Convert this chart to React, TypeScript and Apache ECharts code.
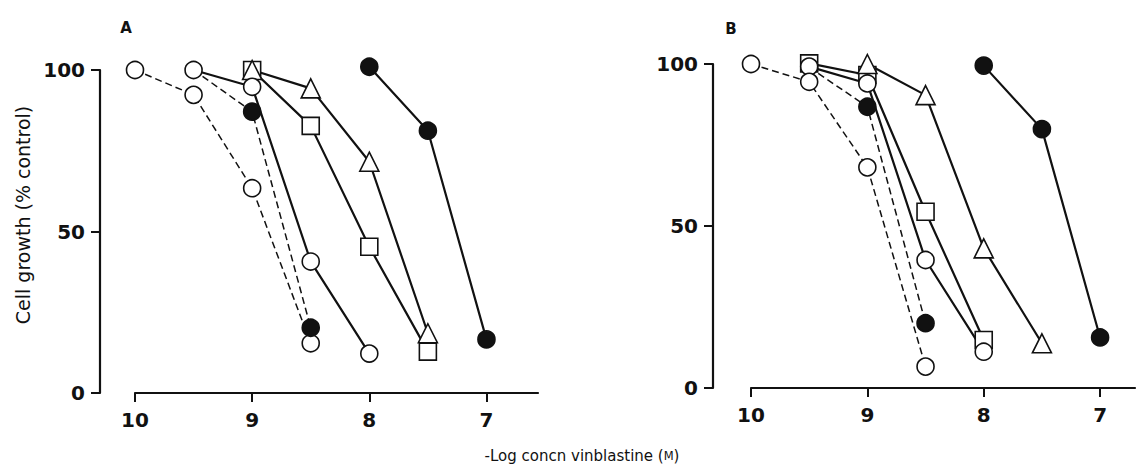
import React, { useEffect, useRef } from "react";
import * as echarts from "echarts";

// Panel A data: [-log concentration, % control]
const squareA = [[9, 100], [8.5, 82.7], [8, 45.3], [7.5, 12.8]];
const triangleA = [[9, 100], [8.5, 94.3], [8, 71.6], [7.5, 18.5]];
const openSolidA = [[9.5, 100], [9, 94.8], [8.5, 40.7], [8, 12.2]];
const openDashA = [[10, 100], [9.5, 92.3], [9, 63.4], [8.5, 15.4]];
const filledDashA = [[9.5, 100], [9, 87.1], [8.5, 20.2]];
const filledSolidA = [[8, 101], [7.5, 81.2], [7, 16.6]];

// Panel B data
const squareB = [[9.5, 100.2], [9, 96.6], [8.5, 54.4], [8, 14.8]];
const triangleB = [[9, 100], [8.5, 90.4], [8, 43.1], [7.5, 13.8]];
const openSolidB = [[9.5, 99.2], [9, 94], [8.5, 39.5], [8, 11.2]];
const openDashB = [[10, 100], [9.5, 94.5], [9, 68.1], [8.5, 6.6]];
const filledDashB = [[9.5, 99], [9, 86.8], [8.5, 20]];
const filledSolidB = [[8, 99.5], [7.5, 79.9], [7, 15.6]];

const xTicks = [10, 9, 8, 7];
const yTicks = [0, 50, 100];
const panelLabels = ["A", "B"];
const yTitle = "Cell growth (% control)";
const xTitle = "-Log concn vinblastine ({s|M})";

const FONT = "'DejaVu Sans', 'Liberation Sans', Arial, sans-serif";
const INK = "#111";

type Pt = number[];

function lineSeries(data: Pt[], idx: number, dashed: boolean) {
  return {
    type: "line",
    xAxisIndex: idx,
    yAxisIndex: idx,
    data,
    symbol: "none",
    clip: false,
    z: 2,
    lineStyle: {
      color: INK,
      width: dashed ? 1.5 : 2.2,
      type: dashed ? [7, 4] : "solid",
    },
  };
}

function markSeries(data: Pt[], idx: number, symbol: string, filled: boolean, size: number, skipFirst = false) {
  return {
    type: "scatter",
    xAxisIndex: idx,
    yAxisIndex: idx,
    data: data.map((d, i) =>
      skipFirst && i === 0 ? { value: d, symbol: "none" } : { value: d }
    ),
    symbol,
    symbolSize: size,
    clip: false,
    z: 3,
    itemStyle: {
      color: filled ? INK : "#fff",
      borderColor: INK,
      borderWidth: 1.6,
      opacity: 1,
    },
  };
}

function panelSeries(idx: number, sq: Pt[], tri: Pt[], os: Pt[], od: Pt[], fd: Pt[], fs: Pt[]) {
  return [
    lineSeries(sq, idx, false),
    lineSeries(tri, idx, false),
    lineSeries(os, idx, false),
    lineSeries(od, idx, true),
    lineSeries(fd, idx, true),
    lineSeries(fs, idx, false),
    markSeries(sq, idx, "rect", false, 17),
    markSeries(tri, idx, "triangle", false, 19),
    markSeries(os, idx, "circle", false, 17),
    markSeries(od, idx, "circle", false, 17),
    markSeries(fd, idx, "circle", true, 17, true),
    markSeries(fs, idx, "circle", true, 17),
  ];
}

function xAxis(idx: number, min: number) {
  return {
    type: "value",
    gridIndex: idx,
    inverse: true,
    min,
    max: 10,
    axisLine: { show: true, onZero: false, lineStyle: { color: INK, width: 2.2 } },
    axisTick: { show: true, length: 9, customValues: xTicks, lineStyle: { color: INK, width: 2 } },
    axisLabel: {
      customValues: xTicks,
      margin: 17,
      fontSize: 20,
      fontWeight: "bold",
      fontFamily: FONT,
      color: INK,
    },
    splitLine: { show: false },
  };
}

function yAxis(idx: number, offset: number) {
  return {
    type: "value",
    gridIndex: idx,
    min: 0,
    max: 100,
    interval: 50,
    offset,
    axisLine: { show: true, lineStyle: { color: INK, width: 2.2 } },
    axisTick: { show: true, length: 9, customValues: yTicks, lineStyle: { color: INK, width: 2 } },
    axisLabel: {
      customValues: yTicks,
      margin: 15,
      fontSize: 20,
      fontWeight: "bold",
      fontFamily: FONT,
      color: INK,
      padding: [6, 0, 0, 0],
    },
    splitLine: { show: false },
  };
}

export default function App() {
  const ref = useRef<HTMLDivElement>(null);
  useEffect(() => {
    if (!ref.current) return;
    const chart = echarts.init(ref.current, undefined, { renderer: "svg" });
    chart.setOption({
      animation: false,
      backgroundColor: "#fff",
      grid: [
        { left: 135, top: 70, width: 403, height: 323 },
        { left: 751, top: 64, width: 384, height: 324 },
      ],
      xAxis: [xAxis(0, 6.56), xAxis(1, 6.7)],
      yAxis: [yAxis(0, 35), yAxis(1, 38)],
      series: [
        ...panelSeries(0, squareA, triangleA, openSolidA, openDashA, filledDashA, filledSolidA),
        ...panelSeries(1, squareB, triangleB, openSolidB, openDashB, filledDashB, filledSolidB),
      ],
      graphic: [
        {
          type: "text",
          x: 126,
          y: 28,
          style: { text: panelLabels[0], align: "center", verticalAlign: "middle", fontSize: 15, fontWeight: "bold", fontFamily: FONT, fill: INK },
        },
        {
          type: "text",
          x: 731,
          y: 29,
          style: { text: panelLabels[1], align: "center", verticalAlign: "middle", fontSize: 15, fontWeight: "bold", fontFamily: FONT, fill: INK },
        },
        {
          type: "text",
          x: 23,
          y: 215,
          rotation: Math.PI / 2,
          style: { text: yTitle, align: "center", verticalAlign: "middle", fontSize: 19, fontFamily: FONT, fill: INK },
        },
        {
          type: "text",
          x: 582,
          y: 456,
          style: {
            text: xTitle,
            align: "center",
            verticalAlign: "middle",
            fontSize: 15,
            fontFamily: FONT,
            fill: INK,
            rich: { s: { fontSize: 11.5, fontFamily: FONT, fill: INK } },
          },
        },
      ],
    });
    return () => chart.dispose();
  }, []);
  return (
    <div
      ref={ref}
      style={{ position: "fixed", left: 0, top: 0, width: 1138, height: 473, background: "#fff" }}
    />
  );
}
